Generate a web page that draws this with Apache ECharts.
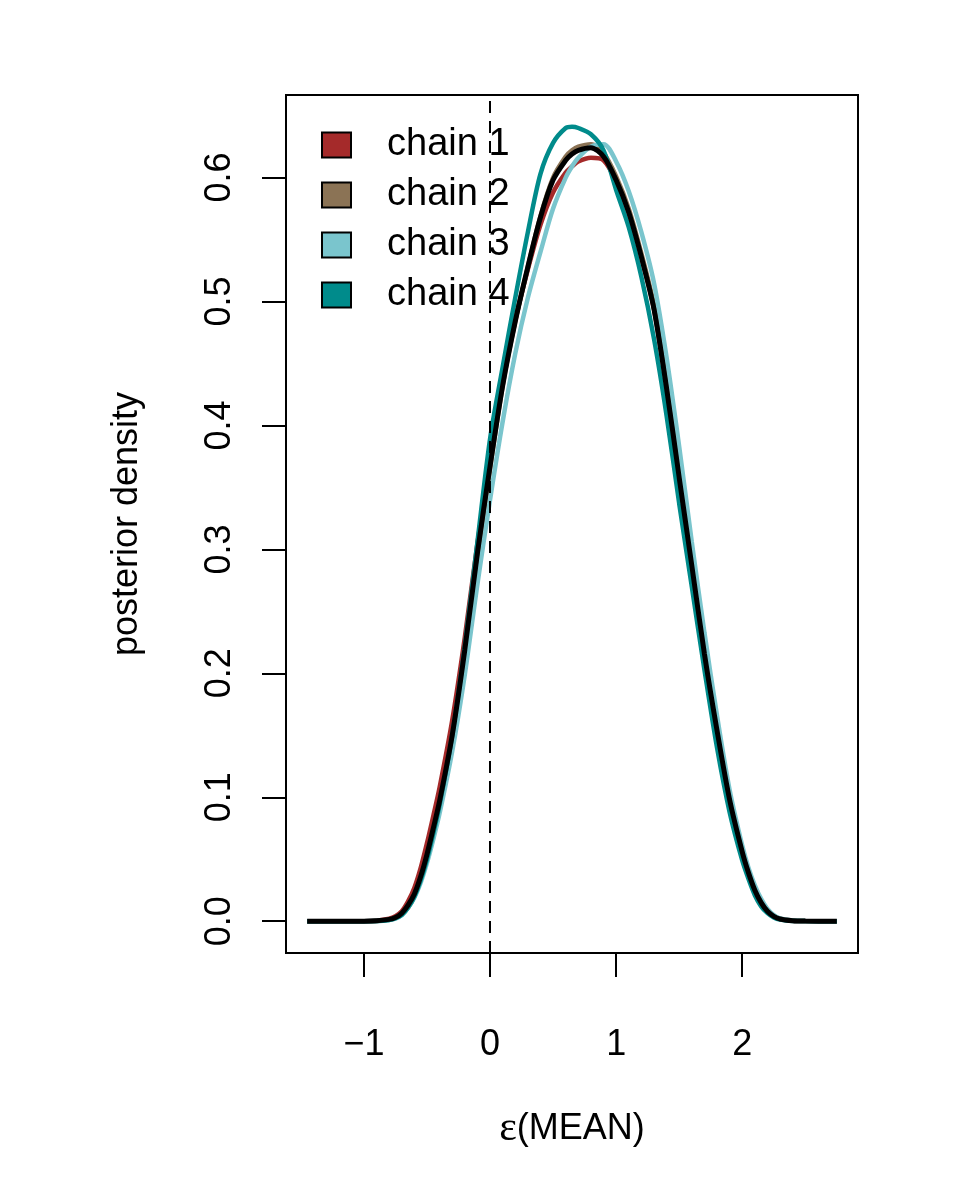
<!DOCTYPE html>
<html>
<head>
<meta charset="utf-8">
<script src="https://cdn.jsdelivr.net/npm/echarts@6/dist/echarts.min.js"></script>
<style>
  html, body { margin: 0; padding: 0; background: #fff; }
  #chart { width: 954px; height: 1192px; }
</style>
</head>
<body>
<div id="chart"></div>
<script>
// ---- data ----
const xGrid = [-1.45, -1.2, -1.0, -0.9, -0.8, -0.75, -0.7, -0.65, -0.6, -0.55, -0.5, -0.45, -0.4, -0.3, -0.2, -0.1,
  0, 0.1, 0.2, 0.3, 0.4, 0.5, 0.6, 0.65, 0.7, 0.8, 0.9, 1.0, 1.1, 1.2, 1.3, 1.4, 1.5, 1.6, 1.7, 1.8, 1.9,
  2.0, 2.05, 2.1, 2.15, 2.2, 2.25, 2.3, 2.4, 2.5, 2.75];

const chain1 = [0, 0, 0, 0.0004, 0.002, 0.004, 0.008, 0.016, 0.027, 0.043, 0.063, 0.085, 0.108, 0.162, 0.229, 0.305,
  0.372, 0.435, 0.485, 0.526, 0.562, 0.588, 0.604, 0.609, 0.613, 0.616, 0.614, 0.597, 0.571, 0.536, 0.494, 0.430, 0.358, 0.287, 0.216, 0.153, 0.098,
  0.056, 0.039, 0.025, 0.015, 0.008, 0.004, 0.0018, 0.0004, 0.0001, 0];

const chain2 = [0, 0, 0, 0.0002, 0.0012, 0.0025, 0.0055, 0.011, 0.020, 0.033, 0.050, 0.071, 0.093, 0.146, 0.215, 0.294,
  0.365, 0.432, 0.484, 0.528, 0.569, 0.600, 0.617, 0.622, 0.625, 0.627, 0.620, 0.601, 0.575, 0.539, 0.497, 0.432, 0.360, 0.289, 0.218, 0.156, 0.100,
  0.057, 0.040, 0.026, 0.016, 0.009, 0.0045, 0.002, 0.0005, 0.0001, 0];

const chain3 = [0, 0, 0, 0.0001, 0.001, 0.002, 0.005, 0.011, 0.019, 0.031, 0.047, 0.066, 0.087, 0.137, 0.199, 0.272,
  0.340, 0.403, 0.458, 0.503, 0.540, 0.575, 0.600, 0.609, 0.616, 0.625, 0.627, 0.613, 0.589, 0.556, 0.515, 0.455, 0.383, 0.306, 0.233, 0.166, 0.106,
  0.061, 0.043, 0.029, 0.018, 0.010, 0.005, 0.0022, 0.0005, 0.0001, 0];

const chain4 = [0, 0, 0, 0.0001, 0.001, 0.0025, 0.005, 0.011, 0.020, 0.033, 0.050, 0.071, 0.094, 0.150, 0.222, 0.306,
  0.389, 0.447, 0.503, 0.556, 0.603, 0.628, 0.640, 0.641, 0.640, 0.635, 0.622, 0.590, 0.560, 0.520, 0.470, 0.408, 0.337, 0.270, 0.203, 0.140, 0.088,
  0.049, 0.034, 0.021, 0.012, 0.0065, 0.003, 0.0013, 0.0002, 0.0001, 0];

const combined = [0, 0, 0, 0.0003, 0.0015, 0.003, 0.0065, 0.013, 0.022, 0.036, 0.054, 0.075, 0.097, 0.150, 0.219, 0.297,
  0.367, 0.432, 0.484, 0.528, 0.568, 0.598, 0.614, 0.619, 0.622, 0.624, 0.617, 0.598, 0.572, 0.536, 0.494, 0.430, 0.358, 0.287, 0.216, 0.154, 0.098,
  0.056, 0.039, 0.025, 0.015, 0.008, 0.004, 0.0018, 0.0004, 0.0001, 0];

const chainNames = ['chain 1', 'chain 2', 'chain 3', 'chain 4'];
const chainColors = ['#A52A2A', '#8B7355', '#7AC5CD', '#008B8B'];
const xTicks = [-1, 0, 1, 2];
const yTicks = [0, 0.1, 0.2, 0.3, 0.4, 0.5, 0.6];
const xTitle = '{e|ε}(MEAN)';
const yTitle = 'posterior density';

// ---- build ----
const chainData = [chain1, chain2, chain3, chain4];
const allY = chainData.concat([combined]).flat();
const xMinD = Math.min(...xGrid), xMaxD = Math.max(...xGrid);
const yMinD = Math.min(...allY), yMaxD = Math.max(...allY);
const xPad = 0.04 * (xMaxD - xMinD), yPad = 0.04 * (yMaxD - yMinD);

const FONT = 'Liberation Sans';
const FS = 36;
const pair = arr => xGrid.map((x, i) => [x, arr[i]]);

const series = chainData.map((arr, i) => ({
  name: chainNames[i],
  type: 'line',
  data: pair(arr),
  showSymbol: false,
  smooth: 0.3,
  itemStyle: { color: chainColors[i] },
  lineStyle: { color: chainColors[i], width: 4.5 },
  z: 2
}));
series[0].markLine = {
  silent: true,
  symbol: 'none',
  label: { show: false },
  lineStyle: { color: '#000', width: 2, type: [12, 8] },
  data: [{ xAxis: 0 }]
};
series.push({
  name: 'all',
  type: 'line',
  data: pair(combined),
  showSymbol: false,
  smooth: 0.3,
  itemStyle: { color: '#000' },
  lineStyle: { color: '#000', width: 5 },
  z: 3
});

const chart = echarts.init(document.getElementById('chart'), null, { renderer: 'canvas' });
chart.setOption({
  animation: false,
  backgroundColor: '#fff',
  textStyle: { fontFamily: FONT },
  grid: {
    left: 286, right: 96, top: 95, bottom: 239,
    show: true, borderColor: '#000', borderWidth: 2, backgroundColor: 'transparent'
  },
  legend: {
    data: chainNames,
    orient: 'vertical',
    left: 321, top: 126,
    padding: 0,
    itemWidth: 29, itemHeight: 25,
    itemGap: 12,
    icon: 'rect',
    itemStyle: { borderColor: '#000', borderWidth: 2 },
    textStyle: { fontFamily: FONT, fontSize: 38, color: '#000', lineHeight: 36, padding: [0, 0, 0, 31] }
  },
  xAxis: {
    type: 'value',
    min: xMinD - xPad, max: xMaxD + xPad,
    axisLine: { show: false, onZero: false },
    splitLine: { show: false },
    axisTick: { show: true, length: 24, lineStyle: { color: '#000', width: 2 }, customValues: xTicks },
    axisLabel: {
      customValues: xTicks, margin: 74, fontSize: FS, fontFamily: FONT, color: '#000',
      formatter: v => (v < 0 ? '\u2212' + Math.abs(v) : String(v))
    },
    name: xTitle,
    nameLocation: 'middle',
    nameGap: 155,
    nameTextStyle: {
      fontSize: FS, fontFamily: FONT, color: '#000',
      rich: { e: { fontSize: 42, fontFamily: 'Liberation Serif', color: '#000' } }
    }
  },
  yAxis: {
    type: 'value',
    min: yMinD - yPad, max: yMaxD + yPad,
    axisLine: { show: false, onZero: false },
    splitLine: { show: false },
    axisTick: { show: true, length: 24, lineStyle: { color: '#000', width: 2 }, customValues: yTicks },
    axisLabel: {
      customValues: yTicks, margin: 48, rotate: 90, fontSize: FS, fontFamily: FONT, color: '#000',
      formatter: v => v.toFixed(1)
    },
    name: yTitle,
    nameLocation: 'middle',
    nameGap: 141,
    nameTextStyle: { fontSize: FS, fontFamily: FONT, color: '#000' }
  },
  series: series
});
</script>
</body>
</html>
